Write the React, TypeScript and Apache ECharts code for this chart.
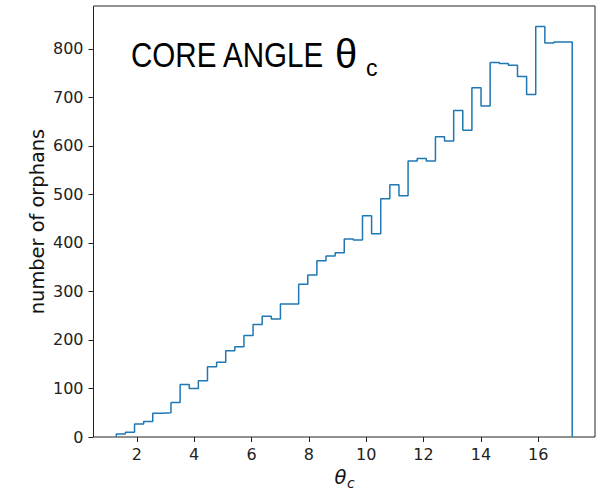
import React, { useEffect, useRef } from "react";
import * as echarts from "echarts";

// Histogram of orphan counts per core-angle bin
const binStart = 1.285;
const binWidth = 0.318;
const counts = [
  6, 10, 27, 32, 49, 50, 71, 108, 100, 116,
  145, 154, 178, 186, 209, 232, 249, 243, 274, 274,
  315, 334, 363, 373, 380, 408, 406, 456, 419, 491,
  520, 497, 569, 574, 569, 619, 610, 673, 632, 720,
  682, 772, 770, 766, 743, 706, 846, 812, 814, 814,
];

const xTicks = [2, 4, 6, 8, 10, 12, 14, 16];
const yTicks = [0, 100, 200, 300, 400, 500, 600, 700, 800];
const xRange = [0.49, 17.98];
const yRange = [0, 888.3];

// Outline of a "step" histogram: up the first edge, across each bin, down the last edge
function stepOutline(): [number, number][] {
  const pts: [number, number][] = [];
  const edge = (i: number) => binStart + i * binWidth;
  pts.push([edge(0), 0]);
  counts.forEach((c, i) => {
    pts.push([edge(i), c]);
    pts.push([edge(i + 1), c]);
  });
  pts.push([edge(counts.length), 0]);
  return pts;
}

const tickFont = "'DejaVu Sans', sans-serif";
const headFont = "'Liberation Sans', Arial, sans-serif";

export default function App() {
  const ref = useRef<HTMLDivElement>(null);

  useEffect(() => {
    const chart = echarts.init(ref.current!, null, { renderer: "svg" });
    chart.setOption({
      animation: false,
      backgroundColor: "#ffffff",
      grid: {
        left: 93.5,
        right: 13,
        top: 6,
        bottom: 57,
        show: true,
        borderColor: "#222",
        borderWidth: 1,
        backgroundColor: "transparent",
      },
      xAxis: {
        type: "value",
        min: xRange[0],
        max: xRange[1],
        splitLine: { show: false },
        axisLine: { show: false },
        axisTick: {
          show: true,
          inside: false,
          length: 5,
          customValues: xTicks,
          lineStyle: { color: "#222", width: 1 },
        },
        axisLabel: {
          customValues: xTicks,
          margin: 9,
          fontSize: 16,
          fontFamily: tickFont,
          color: "#222",
        },
      },
      yAxis: {
        type: "value",
        min: yRange[0],
        max: yRange[1],
        splitLine: { show: false },
        axisLine: { show: false },
        axisTick: {
          show: true,
          inside: false,
          length: 5,
          customValues: yTicks,
          lineStyle: { color: "#222", width: 1 },
        },
        axisLabel: {
          customValues: yTicks,
          margin: 10,
          fontSize: 16,
          fontFamily: tickFont,
          color: "#222",
        },
      },
      series: [
        {
          type: "line",
          data: stepOutline(),
          showSymbol: false,
          symbol: "none",
          lineStyle: { color: "#1f77b4", width: 1.5 },
          silent: true,
        },
      ],
      graphic: [
        // y-axis title
        {
          type: "text",
          x: 37,
          y: 221.5,
          rotation: Math.PI / 2,
          style: {
            text: "number of orphans",
            fontSize: 19.4,
            fontFamily: tickFont,
            fill: "#111",
            align: "center",
            verticalAlign: "middle",
            textAlign: "center",
            textVerticalAlign: "middle",
          },
        },
        // x-axis title: θ_c
        {
          type: "text",
          x: 340.5,
          y: 477.5,
          style: {
            text: "θ",
            fontSize: 19.4,
            fontStyle: "italic",
            fontFamily: tickFont,
            fill: "#111",
            align: "center",
            verticalAlign: "middle",
            textAlign: "center",
            textVerticalAlign: "middle",
          },
        },
        {
          type: "text",
          x: 347,
          y: 483,
          style: {
            text: "c",
            fontSize: 14,
            fontStyle: "italic",
            fontFamily: tickFont,
            fill: "#111",
            align: "left",
            verticalAlign: "middle",
            textAlign: "left",
            textVerticalAlign: "middle",
          },
        },
        // in-plot heading
        {
          type: "text",
          x: 131,
          y: 55,
          scaleX: 0.845,
          style: {
            text: "CORE ANGLE",
            fontSize: 35,
            fontFamily: headFont,
            fill: "#000",
            align: "left",
            verticalAlign: "middle",
            textAlign: "left",
            textVerticalAlign: "middle",
          },
        },
        {
          type: "text",
          x: 335,
          y: 54,
          style: {
            text: "θ",
            fontSize: 40,
            fontFamily: headFont,
            fill: "#000",
            align: "left",
            verticalAlign: "middle",
            textAlign: "left",
            textVerticalAlign: "middle",
          },
        },
        {
          type: "text",
          x: 366,
          y: 68,
          style: {
            text: "c",
            fontSize: 23,
            fontFamily: headFont,
            fill: "#000",
            align: "left",
            verticalAlign: "middle",
            textAlign: "left",
            textVerticalAlign: "middle",
          },
        },
      ],
    });
    return () => chart.dispose();
  }, []);

  return (
    <div
      ref={ref}
      style={{
        position: "fixed",
        left: 0,
        top: 0,
        width: 608,
        height: 494,
        background: "#ffffff",
      }}
    />
  );
}
